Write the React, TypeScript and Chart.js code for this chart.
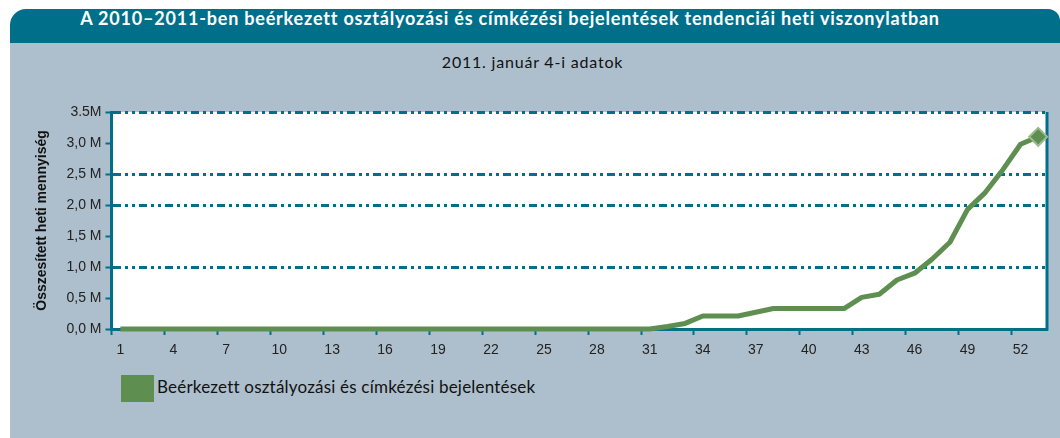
import { useEffect, useRef } from 'react';
import { Chart, registerables } from 'chart.js';

Chart.register(...registerables);

const TITLE = 'A 2010–2011-ben beérkezett osztályozási és címkézési bejelentések tendenciái heti viszonylatban';
const SUBTITLE = '2011. január 4-i adatok';
const SERIES_NAME = 'Beérkezett osztályozási és címkézési bejelentések';
const Y_TITLE = 'Összesített heti mennyiség';

const weeks = [
  '1', '2', '3', '4', '5', '6', '7', '8', '9', '10',
  '11', '12', '13', '14', '15', '16', '17', '18', '19', '20',
  '21', '22', '23', '24', '25', '26', '27', '28', '29', '30',
  '31', '32', '33', '34', '35', '36', '37', '38', '39', '40',
  '41', '42', '43', '44', '45', '46', '47', '48', '49', '50',
  '51', '52', '53',
];

// cumulative weekly totals, millions
const weeklyTotalsM = [
  0, 0, 0, 0, 0, 0, 0, 0, 0, 0,
  0, 0, 0, 0, 0, 0, 0, 0, 0, 0,
  0, 0, 0, 0, 0, 0, 0, 0, 0, 0,
  0, 0.04, 0.09, 0.21, 0.21, 0.21, 0.27, 0.33, 0.33, 0.33,
  0.33, 0.33, 0.51, 0.56, 0.79, 0.9, 1.13, 1.4, 1.93, 2.2,
  2.57, 2.98, 3.1,
];

const yTickValues = [0, 0.5, 1, 1.5, 2, 2.5, 3, 3.5];
const yTickLabels = ['0,0 M', '0,5 M', '1,0 M', '1,5 M', '2,0 M', '2,5 M', '3,0 M', '3.5M'];
const gridLineValues = [1, 2, 2.5, 3.5];
const X_LABEL_EVERY = 3;

const TEAL = '#006f8a';
const GRAY = '#adbfcc';
const GREEN = '#5e8f50';
const GREEN_LIGHT = '#9dbb8f';
const TICK_FONT = { family: '"Liberation Sans", Arial, sans-serif', size: 14 };

const framePlugin = {
  id: 'frame',
  beforeDraw(chart: any) {
    const { ctx, chartArea } = chart;
    const { left, top, right, bottom } = chartArea;
    ctx.save();
    ctx.fillStyle = '#ffffff';
    ctx.fillRect(left, top, right - left, bottom - top);
    ctx.restore();
  },
  beforeDatasetsDraw(chart: any) {
    const { ctx, chartArea } = chart;
    const { top, right, bottom } = chartArea;
    ctx.save();
    ctx.strokeStyle = TEAL;
    ctx.lineWidth = 3;
    ctx.beginPath();
    ctx.moveTo(right, top);
    ctx.lineTo(right, bottom + 1.5);
    ctx.stroke();
    ctx.restore();
  },
};

export default function App() {
  const ref = useRef<HTMLCanvasElement>(null);

  useEffect(() => {
    const lastIndex = weeklyTotalsM.length - 1;
    const chart = new Chart(ref.current as HTMLCanvasElement, {
      type: 'line',
      data: {
        labels: weeks,
        datasets: [
          {
            label: SERIES_NAME,
            data: weeklyTotalsM,
            borderColor: GREEN,
            backgroundColor: GREEN,
            borderWidth: 5,
            tension: 0,
            pointStyle: 'rectRot',
            pointRadius: (c: any) => (c.dataIndex === lastIndex ? 9 : 0),
            pointHoverRadius: 0,
            pointBackgroundColor: GREEN,
            pointBorderColor: GREEN_LIGHT,
            pointBorderWidth: 2,
            borderJoinStyle: 'round',
            clip: false as any,
          },
        ],
      },
      options: {
        responsive: false,
        animation: false,
        layout: { padding: { left: 0, top: 16, right: 7, bottom: 0 } },
        plugins: {
          legend: { display: false },
          tooltip: { enabled: false },
        },
        scales: {
          x: {
            type: 'category',
            offset: true,
            afterFit: (s: any) => {
              s.height = 30;
            },
            grid: {
              offset: true,
              drawOnChartArea: false,
              drawTicks: true,
              tickLength: 6,
              tickWidth: 2,
              tickColor: (c: any) => (c.index % X_LABEL_EVERY === 0 ? TEAL : 'rgba(0,0,0,0)'),
            },
            border: { display: true, color: TEAL, width: 3 },
            ticks: {
              autoSkip: false,
              maxRotation: 0,
              padding: 7,
              color: '#222',
              font: TICK_FONT,
              callback: (_v: any, i: number) => (i % X_LABEL_EVERY === 0 ? weeks[i] : ''),
            },
          },
          y: {
            min: 0,
            max: 3.5,
            afterFit: (s: any) => {
              s.width = 101.5;
            },
            afterBuildTicks: (s: any) => {
              s.ticks = yTickValues.map((v) => ({ value: v }));
            },
            grid: {
              color: (c: any) =>
                c.tick && gridLineValues.includes(c.tick.value) ? TEAL : 'rgba(0,0,0,0)',
              lineWidth: 3,
              drawTicks: true,
              tickLength: 6,
              tickWidth: 2,
              tickColor: TEAL,
            },
            border: { display: true, color: TEAL, width: 3, dash: [8, 4, 3, 4, 3, 4] },
            ticks: {
              padding: 4,
              color: '#222',
              font: TICK_FONT,
              callback: (_v: any, i: number) => yTickLabels[i],
            },
            title: {
              display: true,
              text: Y_TITLE,
              color: '#111',
              font: { family: '"Liberation Sans", Arial, sans-serif', size: 14, weight: 'bold' },
              padding: { top: 24, bottom: 0 },
            },
          },
        },
      },
      plugins: [framePlugin],
    } as any);
    return () => chart.destroy();
  }, []);

  return (
    <div
      style={{
        position: 'fixed',
        left: 0,
        top: 0,
        width: 1060,
        height: 438,
        background: '#ffffff',
        overflow: 'hidden',
      }}
    >
      <div style={{ position: 'absolute', left: 10, top: 42, width: 1050, height: 396, background: GRAY }} />
      <div
        style={{
          position: 'absolute',
          left: 10,
          top: 9,
          width: 1050,
          height: 34,
          background: TEAL,
          borderTopLeftRadius: 16,
          borderTopRightRadius: 12,
        }}
      />
      <div
        style={{
          position: 'absolute',
          left: 0,
          top: 6,
          width: 1020,
          textAlign: 'center',
          color: '#ffffff',
          font: '700 18px Lato, "Open Sans", sans-serif',
          letterSpacing: '0.8px',
          whiteSpace: 'nowrap',
          lineHeight: '24px',
        }}
      >
        {TITLE}
      </div>
      <div
        style={{
          position: 'absolute',
          left: 0,
          top: 52,
          width: 1065,
          textAlign: 'center',
          color: '#111',
          font: '400 16px Lato, "Open Sans", sans-serif',
          letterSpacing: '0.8px',
          whiteSpace: 'nowrap',
          lineHeight: '20px',
        }}
      >
        {SUBTITLE}
      </div>
      <canvas
        ref={ref}
        width={1048}
        height={263}
        style={{ position: 'absolute', left: 10, top: 96, width: 1048, height: 263 }}
      />
      <div style={{ position: 'absolute', left: 121, top: 375, width: 33, height: 27, background: GREEN }} />
      <div
        style={{
          position: 'absolute',
          left: 157,
          top: 376,
          color: '#111',
          font: '400 17px Lato, "Open Sans", sans-serif',
          letterSpacing: '0.2px',
          whiteSpace: 'nowrap',
          lineHeight: '21px',
        }}
      >
        {SERIES_NAME}
      </div>
    </div>
  );
}
